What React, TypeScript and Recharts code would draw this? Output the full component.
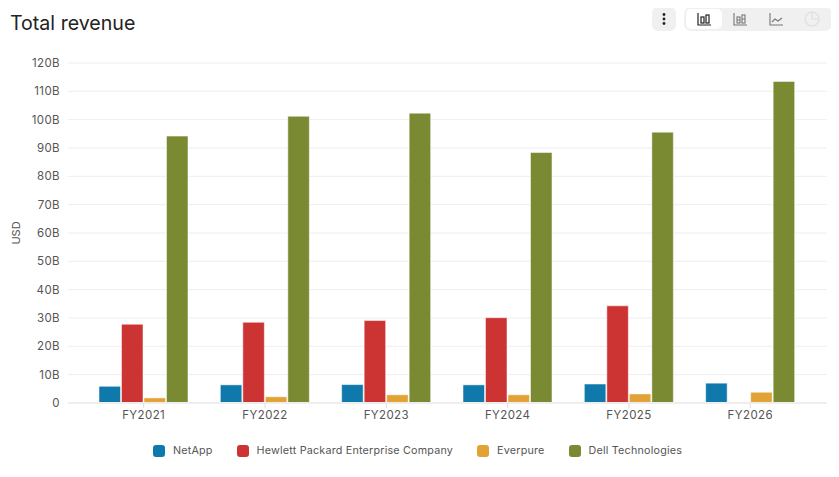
import React from 'react';
import {
  BarChart,
  Bar,
  XAxis,
  YAxis,
  CartesianGrid,
  Legend,
  Label,
} from 'recharts';

const categories = ['FY2021', 'FY2022', 'FY2023', 'FY2024', 'FY2025', 'FY2026'];
const netApp = [5.9, 6.4, 6.5, 6.4, 6.7, 7.0];
const hpe = [27.8, 28.5, 29.1, 30.1, 34.3, null];
const everpure = [1.8, 2.2, 2.9, 2.9, 3.2, 3.8];
const dell = [94.2, 101.2, 102.3, 88.4, 95.6, 113.5];
const yTicks = [0, 10, 20, 30, 40, 50, 60, 70, 80, 90, 100, 110, 120];

const data = categories.map((name, i) => ({
  name,
  netApp: netApp[i],
  hpe: hpe[i],
  everpure: everpure[i],
  dell: dell[i],
}));

const FONT = 'Inter, sans-serif';
const tickStyle = { fontSize: 11.5, fill: '#555', fontFamily: FONT, letterSpacing: 0.4 };
const seriesOrder = ['NetApp', 'Hewlett Packard Enterprise Company', 'Everpure', 'Dell Technologies'];

function ChartLegend({ payload }: any) {
  const items = [...(payload || [])].sort((a: any, b: any) => seriesOrder.indexOf(a.value) - seriesOrder.indexOf(b.value));
  return (
    <div style={{ display: 'flex', justifyContent: 'center', gap: 24, paddingTop: 15, fontFamily: FONT, fontSize: 10.75, color: '#555', letterSpacing: 0.2, lineHeight: '14px' }}>
      {items.map((p: any) => (
        <div key={p.value} style={{ display: 'flex', alignItems: 'center', gap: 8 }}>
          <span style={{ width: 12, height: 12, borderRadius: 3, background: p.color, display: 'inline-block' }} />
          <span>{p.value}</span>
        </div>
      ))}
    </div>
  );
}

function Toolbar() {
  const c = '#777';
  return (
    <>
      <div style={{ position: 'absolute', left: 652, top: 7, width: 24, height: 24, borderRadius: 6, background: '#f0f0f0' }}>
        <svg width="24" height="24">
          <circle cx="12" cy="7.5" r="1.4" fill="#222" />
          <circle cx="12" cy="12" r="1.4" fill="#222" />
          <circle cx="12" cy="16.5" r="1.4" fill="#222" />
        </svg>
      </div>
      <div style={{ position: 'absolute', left: 684, top: 7, width: 148, height: 24, borderRadius: 7, background: '#f0f0f0' }}>
        <div style={{ position: 'absolute', left: 2, top: 2, width: 36, height: 20, borderRadius: 5, background: '#fff' }} />
        <svg width="148" height="24" style={{ position: 'absolute', left: 0, top: 0 }} fill="none">
          <g stroke="#222" strokeWidth="1.2">
            <path d="M14 6v12h13" />
            <rect x="17" y="10" width="3" height="6" />
            <rect x="22" y="8" width="3" height="8" />
          </g>
          <g stroke={c} strokeWidth="1.1">
            <path d="M50 6v12h13" />
            <rect x="53" y="10" width="3" height="6" />
            <rect x="58" y="8" width="3" height="8" />
            <path d="M53 13h3M58 12h3" />
          </g>
          <g stroke={c} strokeWidth="1.1">
            <path d="M86 6v12h13" />
            <path d="M88 15l3-3 3 2 4-3" />
          </g>
          <g stroke="#ddd" strokeWidth="1.1">
            <circle cx="128" cy="12" r="7" />
            <path d="M128 5v7h7" />
          </g>
        </svg>
      </div>
    </>
  );
}

export default function App() {
  return (
    <div style={{ position: 'relative', width: 839, height: 477, background: '#f4f4f4', margin: -8, overflow: 'hidden' }}>
      <div style={{ position: 'absolute', left: -10, top: -10, width: 847, height: 481, background: '#fff', borderRadius: 10, boxShadow: '0 1px 2px rgba(0,0,0,0.08)' }} />
      <div style={{ position: 'absolute', left: 10, top: 10, fontFamily: FONT, fontSize: 19.6, fontWeight: 400, color: '#222', lineHeight: '27px' }}>
        Total revenue
      </div>
      <Toolbar />
      <div style={{ position: 'absolute', left: 0, top: 0 }}>
        <BarChart
          width={839}
          height={477}
          data={data}
          margin={{ top: 63, right: 12, left: 8, bottom: 14 }}
          barSize={21.5}
          barGap={1}
        >
          <CartesianGrid vertical={false} stroke="#eeeeee" strokeWidth={1} />
          <XAxis
            dataKey="name"
            padding={{ left: 15, right: 16 }}
            tick={tickStyle}
            axisLine={{ stroke: '#eeeeee', strokeWidth: 2 }}
            tickLine={{ stroke: '#e0e0e0' }}
            tickSize={5}
            tickMargin={3}
            height={26}
            interval={0}
          />
          <YAxis
            domain={[0, 120]}
            ticks={yTicks}
            interval={0}
            tickFormatter={(v: number) => (v === 0 ? '0' : `${v}B`)}
            tick={tickStyle}
            axisLine={false}
            tickLine={false}
            tickMargin={8}
            tickSize={0}
            width={60}
          >
            <Label value="USD" angle={-90} position="insideLeft" offset={8} style={{ fontSize: 11, fill: '#555', fontFamily: FONT, textAnchor: 'middle' }} />
          </YAxis>
          <Legend verticalAlign="bottom" height={34} content={<ChartLegend />} />
          <Bar dataKey="netApp" name="NetApp" fill="#0f79ab" stroke="#fff" strokeOpacity={0.5} isAnimationActive={false} />
          <Bar dataKey="hpe" name="Hewlett Packard Enterprise Company" fill="#cc3333" stroke="#fff" strokeOpacity={0.5} isAnimationActive={false} />
          <Bar dataKey="everpure" name="Everpure" fill="#e3a235" stroke="#fff" strokeOpacity={0.5} isAnimationActive={false} />
          <Bar dataKey="dell" name="Dell Technologies" fill="#7a8a32" stroke="#fff" strokeOpacity={0.5} isAnimationActive={false} />
        </BarChart>
      </div>
    </div>
  );
}
